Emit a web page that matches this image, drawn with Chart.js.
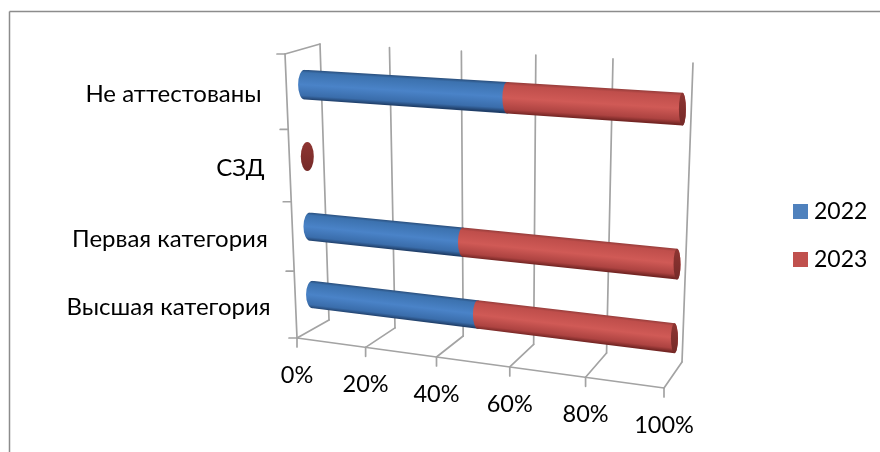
<!DOCTYPE html>
<html>
<head>
<meta charset="utf-8">
<style>
  html, body { margin: 0; padding: 0; background: #fff; }
  canvas { display: block; }
</style>
</head>
<body>
<canvas id="chart" width="880" height="452"></canvas>
<script src="https://cdn.jsdelivr.net/npm/chart.js@4/dist/chart.umd.min.js"></script>
<script>
const categories = ['Высшая категория', 'Первая категория', 'СЗД', 'Не аттестованы'];
const years = ['2022', '2023'];
const values2022 = [48, 44, 0, 56];
const values2023 = [52, 56, 0, 44];

const labelFont = '24px Lato, sans-serif';
const tickFont = '23.5px Lato, sans-serif';
const legendFont = '23px Lato, sans-serif';
const gridColor = '#a3a3a3';
const legendColors = ['#4f81bd', '#c0504d'];
const barShades = [
  ['#2a4f7d', '#3c72af', '#4a83c8', '#3a6dab', '#203f69'],
  ['#973d3b', '#bf4e4b', '#d05a56', '#ad4341', '#742624']
];

// unit square -> screen quad, corners go (0,0) (1,0) (1,1) (0,1)
function makeQuad(p0, p1, p2, p3) {
  const dx1 = p1[0] - p2[0], dx2 = p3[0] - p2[0], sx = p0[0] - p1[0] + p2[0] - p3[0];
  const dy1 = p1[1] - p2[1], dy2 = p3[1] - p2[1], sy = p0[1] - p1[1] + p2[1] - p3[1];
  const det = dx1 * dy2 - dx2 * dy1;
  const g = (sx * dy2 - dx2 * sy) / det;
  const h = (dx1 * sy - sx * dy1) / det;
  const a = p1[0] - p0[0] + g * p1[0], b = p3[0] - p0[0] + h * p3[0];
  const d = p1[1] - p0[1] + g * p1[1], e = p3[1] - p0[1] + h * p3[1];
  return (u, v) => {
    const w = g * u + h * v + 1;
    return [(a * u + b * v + p0[0]) / w, (d * u + e * v + p0[1]) / w];
  };
}

const backWall = makeQuad([320, 44], [693, 63], [682, 362], [329, 320]);
const sideWall = makeQuad([285, 54], [320, 44], [329, 320], [297, 338]);
const barPlane = makeQuad([303.2, 48], [683.8, 69], [673.2, 374.5], [313.8, 328]);
const floorFrontLeft = [297, 338], floorFrontRight = [664, 388];

// front edge of the floor, spaced like the back wall
function floorFront(u) {
  const l = backWall(0, 1), r = backWall(1, 1);
  const f = (backWall(u, 1)[0] - l[0]) / (r[0] - l[0]);
  return [
    floorFrontLeft[0] + (floorFrontRight[0] - floorFrontLeft[0]) * f,
    floorFrontLeft[1] + (floorFrontRight[1] - floorFrontLeft[1]) * f
  ];
}

function line(ctx, a, b) {
  ctx.beginPath();
  ctx.moveTo(a[0], a[1]);
  ctx.lineTo(b[0], b[1]);
  ctx.stroke();
}

function drawFrame(ctx) {
  ctx.strokeStyle = '#8c8c8c';
  ctx.lineWidth = 1.5;
  line(ctx, [9.5, 452], [9.5, 11.5]);
  line(ctx, [9.5, 11.5], [880, 11.5]);
}

function drawWalls(chart) {
  const ctx = chart.ctx, x = chart.scales.x, y = chart.scales.y, area = chart.chartArea;
  ctx.strokeStyle = gridColor;
  ctx.lineWidth = 1.7;
  ctx.lineCap = 'round';
  ctx.fillStyle = '#000';
  ctx.textBaseline = 'middle';

  ctx.font = tickFont;
  ctx.textAlign = 'center';
  x.ticks.forEach(t => {
    const u = (x.getPixelForValue(t.value) - area.left) / area.width;
    const f = floorFront(u);
    line(ctx, backWall(u, 0), backWall(u, 1));
    line(ctx, backWall(u, 1), f);
    line(ctx, f, [f[0], f[1] + 9]);
    ctx.fillText(t.label, f[0], f[1] + 37);
  });

  // left wall with the category ticks
  line(ctx, sideWall(0, 0), sideWall(0, 1));
  line(ctx, sideWall(0, 0), sideWall(1, 0));
  line(ctx, floorFront(0), floorFront(1));
  const band = 1 / categories.length;
  for (let k = 0; k <= categories.length; k++) {
    const p = sideWall(0, k * band);
    line(ctx, [p[0] - 8, p[1]], p);
  }
  ctx.font = labelFont;
  ctx.textAlign = 'right';
  categories.forEach((c, i) => {
    const v = (y.getPixelForValue(i) - area.top) / area.height;
    const p = sideWall(0, v);
    ctx.fillText(c, p[0] - 25, p[1] + 2);
  });
}

function shade(ctx, a, b, stops) {
  const g = ctx.createLinearGradient(a[0], a[1], b[0], b[1]);
  [0, 0.1, 0.5, 0.86, 1].forEach((s, i) => g.addColorStop(s, stops[i]));
  return g;
}

function drawBars(chart) {
  const ctx = chart.ctx, area = chart.chartArea;
  const radius = u => 6.5 - 3 * u;
  categories.forEach((c, i) => {
    let top = null;
    chart.data.datasets.forEach((ds, d) => {
      const bar = chart.getDatasetMeta(d).data[i];
      const u0 = (bar.base - area.left) / area.width;
      const u1 = (bar.x - area.left) / area.width;
      const v0 = (bar.y - bar.height / 2 - area.top) / area.height;
      const v1 = (bar.y + bar.height / 2 - area.top) / area.height;
      top = { u1, v0, v1 };
      if (u1 <= u0) return;
      const tl = barPlane(u0, v0), bl = barPlane(u0, v1), tr = barPlane(u1, v0), br = barPlane(u1, v1);
      ctx.beginPath();
      ctx.moveTo(tl[0], tl[1]);
      ctx.lineTo(tr[0], tr[1]);
      ctx.ellipse((tr[0] + br[0]) / 2, (tr[1] + br[1]) / 2, radius(u1), (br[1] - tr[1]) / 2, 0, -Math.PI / 2, Math.PI / 2);
      ctx.lineTo(bl[0], bl[1]);
      ctx.ellipse((tl[0] + bl[0]) / 2, (tl[1] + bl[1]) / 2, radius(u0), (bl[1] - tl[1]) / 2, 0, Math.PI / 2, Math.PI * 1.5);
      ctx.closePath();
      ctx.fillStyle = shade(ctx, tl, [tl[0] - (tr[1] - tl[1]) / (tr[0] - tl[0]) * (bl[1] - tl[1]), bl[1]], barShades[d]);
      ctx.fill();
    });
    // the dark end of the cylinder, all that is left when the bar is empty
    const a = barPlane(top.u1, top.v0), b = barPlane(top.u1, top.v1);
    ctx.beginPath();
    ctx.ellipse((a[0] + b[0]) / 2, (a[1] + b[1]) / 2, radius(top.u1), (b[1] - a[1]) / 2, 0, 0, Math.PI * 2);
    const g = ctx.createLinearGradient(0, a[1], 0, b[1]);
    g.addColorStop(0, '#8e3532');
    g.addColorStop(1, '#752a28');
    ctx.fillStyle = g;
    ctx.fill();
  });
}

function drawLegend(chart) {
  const ctx = chart.ctx;
  ctx.font = legendFont;
  ctx.textAlign = 'left';
  ctx.textBaseline = 'middle';
  chart.data.datasets.forEach((ds, d) => {
    const y = 204 + d * 48;
    ctx.fillStyle = ds.backgroundColor;
    ctx.fillRect(793, y, 15, 15);
    ctx.fillStyle = '#000';
    ctx.fillText(ds.label, 814, y + 8);
  });
}

const scene = {
  id: 'scene',
  beforeDatasetsDraw(chart) {
    drawFrame(chart.ctx);
    drawWalls(chart);
    drawBars(chart);
    drawLegend(chart);
    return false;
  }
};

new Chart(document.getElementById('chart'), {
  type: 'bar',
  data: {
    labels: categories,
    datasets: [
      { label: years[0], data: values2022, backgroundColor: legendColors[0] },
      { label: years[1], data: values2023, backgroundColor: legendColors[1] }
    ]
  },
  options: {
    indexAxis: 'y',
    responsive: false,
    animation: false,
    devicePixelRatio: 1,
    layout: { padding: 0 },
    datasets: { bar: { categoryPercentage: 0.41, barPercentage: 1 } },
    scales: {
      x: {
        display: false,
        stacked: true,
        min: 0,
        max: 100,
        ticks: { stepSize: 20, callback: v => v + '%' }
      },
      y: { display: false, stacked: true, reverse: true }
    },
    plugins: { legend: { display: false }, tooltip: { enabled: false } }
  },
  plugins: [scene]
});
</script>
</body>
</html>
